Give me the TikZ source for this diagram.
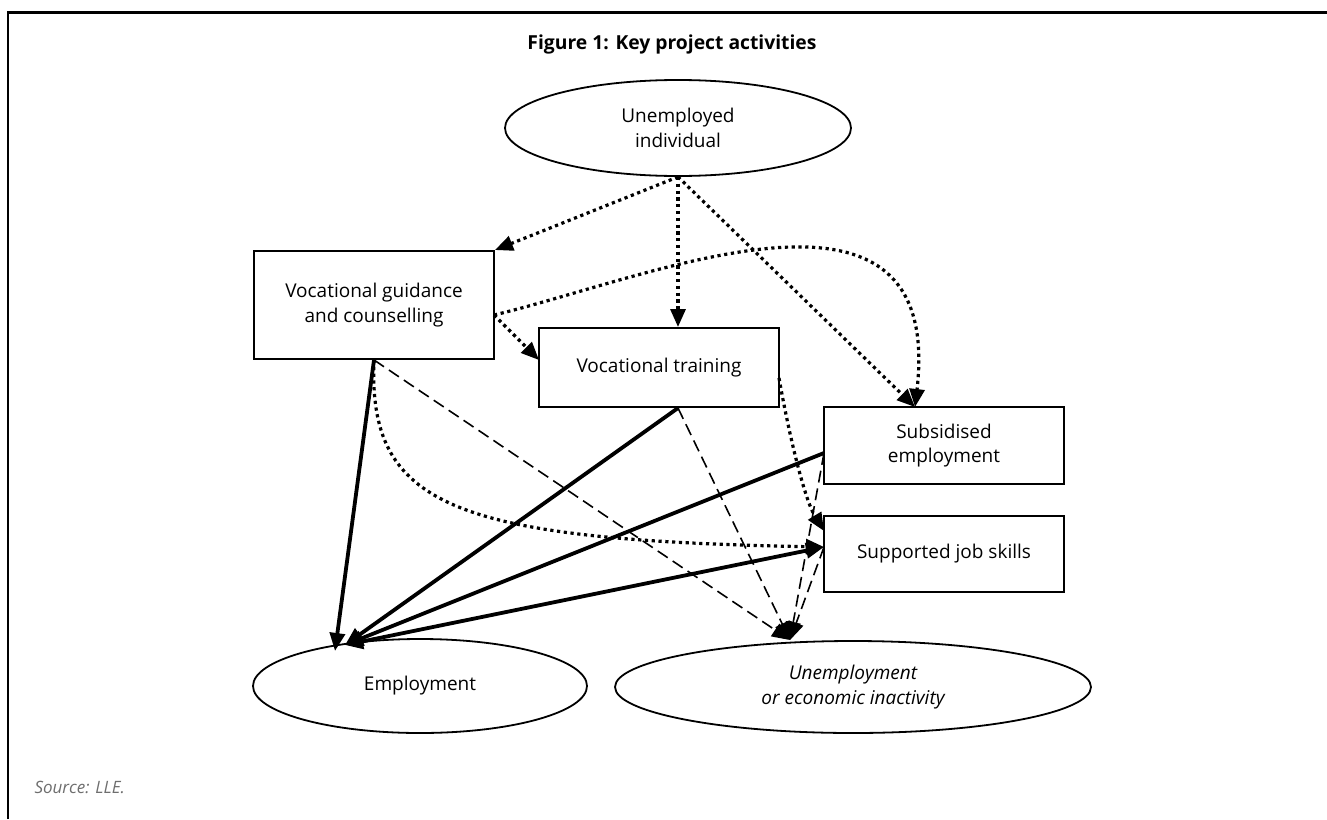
\documentclass[tikz,border=0pt]{standalone}
\usepackage{fontspec}
\setmainfont{Open Sans}
\usetikzlibrary{arrows.meta,shapes.geometric,calc}
\definecolor{srcgray}{RGB}{110,110,110}
\newcommand\myBody{\fontsize{19}{24.5}\selectfont}
\newcommand\myTitle{\fontsize{19.3}{22}\selectfont\bfseries}
\newcommand\mySource{\fontsize{17}{20}\selectfont\itshape}
\tikzset{
  box/.style={draw, line width=2pt, minimum width=240pt, inner sep=0pt, align=center, font=\myBody},
  oval/.style={draw, ellipse, line width=1.8pt, inner sep=0pt, align=center, font=\myBody},
  tipend/.style={-{Triangle[length=18pt,width=15pt]}},
  tipboth/.style={{Triangle[length=18pt,width=15pt]}-{Triangle[length=18pt,width=15pt]}},
  dotline/.style={line width=3.2pt, dash pattern=on 3.2pt off 3.6pt},
  thickline/.style={line width=3.8pt},
  dashline/.style={line width=1.6pt, dash pattern=on 12pt off 6pt},
}
\begin{document}
\begin{tikzpicture}[x=1pt,y=-1pt]
\useasboundingbox (0,0) rectangle (1327,819);
\fill[white] (0,0) rectangle (1327,819);
% frame
\draw[line width=2.4pt] (8,819) -- (8,12.5) -- (1327,12.5);
% title and source
\node[font=\myTitle] (title) at (672,44) {Figure 1: Key project activities};
\node[anchor=west, font=\mySource, text=srcgray] (src) at (31,787) {Source: LLE.};
% nodes
\node[oval, minimum width=346pt, minimum height=96pt] (unemp) at (678,128) {Unemployed\\individual};
\node[box, minimum height=108pt] (guid) at (374,305) {Vocational guidance\\and counselling};
\node[box, minimum height=79pt] (train) at (659,367.5) {Vocational training};
\node[box, minimum height=77pt] (subs) at (944,445.5) {Subsidised\\employment};
\node[box, minimum height=76pt] (supp) at (944,554) {Supported job skills};
\node[oval, minimum width=334pt, minimum height=94pt] (emp) at (420,686) {Employment};
\node[oval, minimum width=476pt, minimum height=92pt, font=\myBody\itshape] (unact) at (853,687) {Unemployment\\or economic inactivity};
% connector end points
\coordinate (empA) at (335,651);
\coordinate (empB) at (345,645);
\coordinate (unA) at (790,640);
\coordinate (subsT) at (915,407);
\coordinate (guidR) at (494,315);
\coordinate (trainL) at (539,360);
\coordinate (trainB) at (unemp.south |- train.south);
\coordinate (trainR) at (779,378);
\coordinate (suppTL) at (824,531);
\coordinate (subsL) at (824,453);
\coordinate (suppL) at (824,547);
% dotted
\draw[dotline, tipend] (unemp.south) -- (guid.north east);
\draw[dotline, tipend] (unemp.south) -- (unemp.south |- train.north);
\draw[dotline, tipend] (unemp.south) -- (subsT);
\draw[dotline, tipend] (guidR) .. controls (650,278) and (945,148) .. (subsT);
\draw[dotline, tipend] (guidR) -- (trainL);
\draw[dotline, tipend] (guid.south) .. controls (368,505) and (450,540) .. (suppL);
\draw[dotline, tipend] (trainR) .. controls (790,440) and (805,500) .. (suppTL);
% solid
\draw[thickline, tipend] (guid.south) -- (empA);
\draw[thickline, tipend] (trainB) -- (empB);
\draw[thickline, tipend] (subsL) -- (empB);
\draw[thickline, tipboth] (empB) -- (suppL);
% dashed
\draw[dashline, tipend] (guid.south) -- (unA);
\draw[dashline, tipend] (trainB) -- (unA);
\draw[dashline, tipend] (subsL) -- (unA);
\draw[dashline, tipend] (suppL) -- (unA);
\end{tikzpicture}
\end{document}
